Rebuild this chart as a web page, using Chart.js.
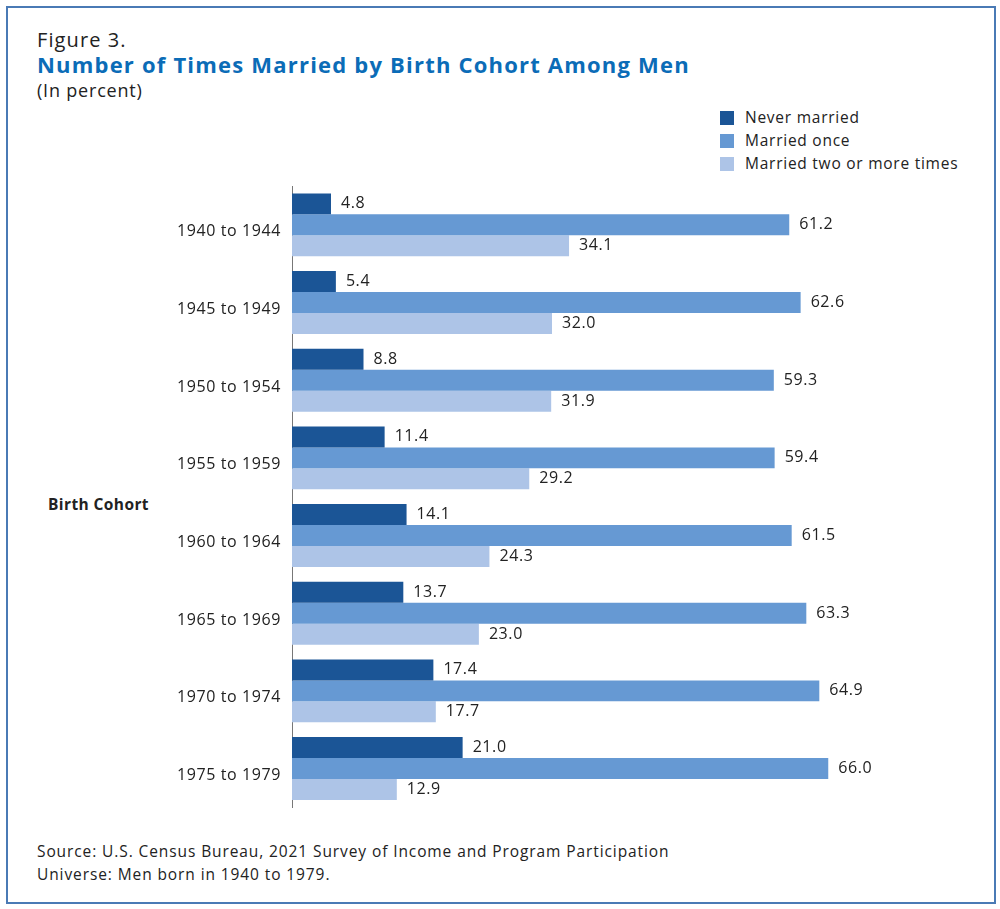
<!DOCTYPE html>
<html>
<head>
<meta charset="utf-8">
<script src="https://cdn.jsdelivr.net/npm/chart.js@4"></script>
<style>
  html, body { margin: 0; padding: 0; background: #fff; }
  body { width: 1000px; height: 909px; position: relative; overflow: hidden; font-family: "Open Sans", "Noto Sans", sans-serif; color: #222; }
  .frame { position: absolute; left: 6px; top: 6px; width: 986px; height: 894px; border: 2px solid #4a7ab5; }
  .fig { position: absolute; left: 37px; top: 26px; font-size: 20px; letter-spacing: 1.1px; }
  .title { position: absolute; left: 37px; top: 49px; font-size: 22px; font-weight: 700; color: #0b6cb7; letter-spacing: 1.2px; }
  .sub { position: absolute; left: 37px; top: 78px; font-size: 18px; letter-spacing: 0.8px; }
  .legend { position: absolute; left: 720px; top: 106px; font-size: 15.5px; letter-spacing: 0.75px; }
  .legend div { height: 23px; line-height: 23px; display: flex; align-items: center; }
  .legend span.sw { width: 14px; height: 14px; margin-right: 11px; display: inline-block; }
  .ytitle { position: absolute; left: 48px; top: 493px; font-size: 15.5px; font-weight: 700; letter-spacing: 0.4px; }
  .note { position: absolute; left: 37px; top: 840px; font-size: 15.5px; line-height: 23px; letter-spacing: 0.9px; }
  #wrap { position: absolute; left: 0; top: 170px; width: 1000px; height: 650px; }
</style>
</head>
<body>
<div class="frame"></div>
<div class="fig">Figure 3.</div>
<div class="title">Number of Times Married by Birth Cohort Among Men</div>
<div class="sub">(In percent)</div>
<div class="legend" id="legend"></div>
<div class="ytitle">Birth Cohort</div>
<div id="wrap"><canvas id="chart" width="1000" height="650"></canvas></div>
<div class="note">Source: U.S. Census Bureau, 2021 Survey of Income and Program Participation<br>Universe: Men born in 1940 to 1979.</div>
<script>
// categories and series
const cohorts = ["1940 to 1944", "1945 to 1949", "1950 to 1954", "1955 to 1959", "1960 to 1964", "1965 to 1969", "1970 to 1974", "1975 to 1979"];
const neverMarried = [4.8, 5.4, 8.8, 11.4, 14.1, 13.7, 17.4, 21.0];
const marriedOnce = [61.2, 62.6, 59.3, 59.4, 61.5, 63.3, 64.9, 66.0];
const marriedTwoPlus = [34.1, 32.0, 31.9, 29.2, 24.3, 23.0, 17.7, 12.9];
const seriesNames = ["Never married", "Married once", "Married two or more times"];
const seriesColors = ["#1b5596", "#6699d3", "#adc4e7"];

const seriesData = [neverMarried, marriedOnce, marriedTwoPlus];
const FONT = "'Open Sans', 'Noto Sans', sans-serif";

// legend
document.getElementById("legend").innerHTML = seriesNames.map((n, i) =>
  `<div><span class="sw" style="background:${seriesColors[i]}"></span>${n}</div>`
).join("");

// wider text spacing on canvas, closer to the original typeface
const spacing = {
  id: "spacing",
  beforeInit(chart) { chart.ctx.letterSpacing = "0.6px"; },
  beforeDraw(chart) { chart.ctx.letterSpacing = "0.6px"; }
};

// value labels at bar ends
const valueLabels = {
  id: "valueLabels",
  afterDatasetsDraw(chart) {
    const ctx = chart.ctx;
    ctx.save();
    ctx.font = "16px " + FONT;
    ctx.fillStyle = "#222";
    ctx.textBaseline = "middle";
    chart.data.datasets.forEach((ds, di) => {
      chart.getDatasetMeta(di).data.forEach((bar, i) => {
        ctx.fillText(ds.data[i].toFixed(1), bar.x + 10, bar.y);
      });
    });
    ctx.restore();
  }
};

new Chart(document.getElementById("chart"), {
  type: "bar",
  data: {
    labels: cohorts,
    datasets: seriesData.map((d, i) => ({
      label: seriesNames[i], data: d, backgroundColor: seriesColors[i],
      barPercentage: 1, categoryPercentage: 0.81
    }))
  },
  options: {
    indexAxis: "y",
    responsive: false,
    animation: false,
    layout: { padding: { top: 16, bottom: 2, right: 58, left: 0 } },
    plugins: { legend: { display: false }, tooltip: { enabled: false } },
    scales: {
      x: { display: false, min: 0, max: 80 },
      y: {
        grid: { display: false },
        border: { display: true, color: "#777", width: 1 },
        ticks: { color: "#222", padding: 3, labelOffset: 7, font: { size: 16, family: FONT } },
        afterFit(scale) { scale.width = 292; }
      }
    }
  },
  plugins: [spacing, valueLabels]
});
</script>
</body>
</html>
